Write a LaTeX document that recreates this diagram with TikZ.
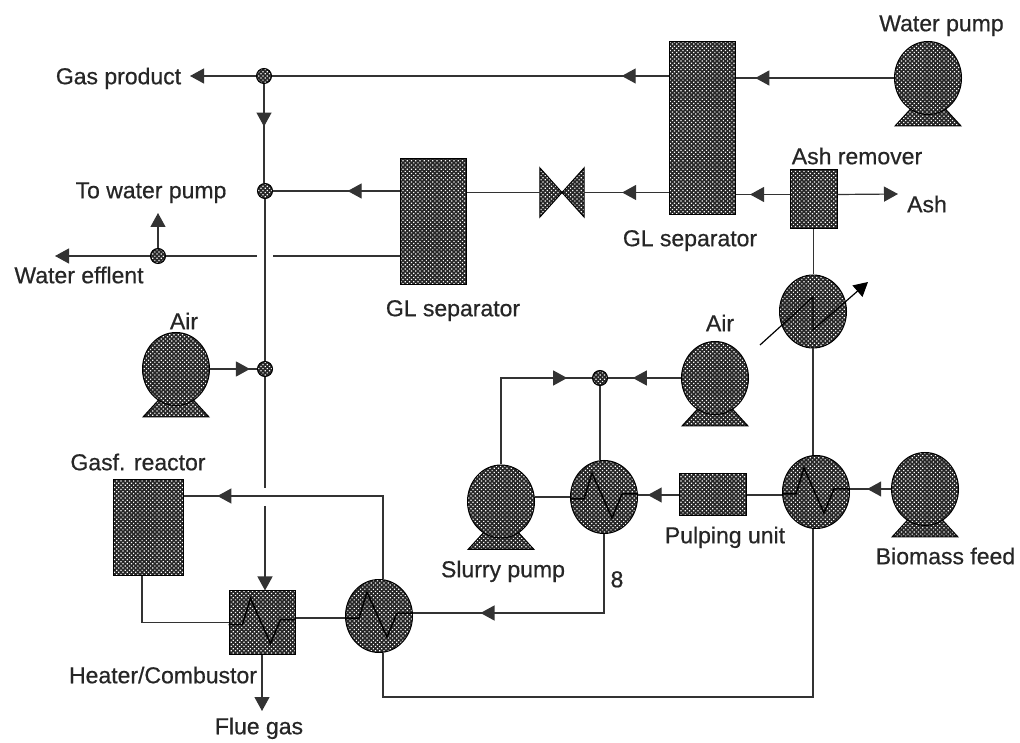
\documentclass[tikz,border=0pt]{standalone}
\usepackage{fontspec}
\setmainfont{Liberation Sans}[FakeBold=0.6]
\usepackage{tikz}
\usetikzlibrary{shapes.geometric, arrows.meta, patterns.meta, decorations.markings}
\tikzstyle{unit} = [rectangle, draw=black, line width=1pt, inner sep=0pt, preaction={fill=black!85}, pattern={Dots[distance=3pt, angle=45, radius=0.85pt]}, pattern color=white]
\tikzstyle{exchanger} = [unit, ellipse, minimum width=67pt, minimum height=73pt]
\tikzstyle{pump} = [unit, ellipse, minimum width=67pt, minimum height=73pt]
\tikzstyle{pumpfoot} = [unit, trapezium, inner sep=2pt, trapezium left angle=55, trapezium right angle=55, trapezium stretches=true, minimum width=66pt, minimum height=21pt]
\tikzstyle{junction} = [unit, circle, minimum size=15pt]
\tikzstyle{valvebox} = [rectangle, inner sep=0pt, minimum width=44pt, minimum height=49pt]
\tikzstyle{tag} = [font=\fontsize{23}{25}\selectfont, inner sep=0pt, text=black!85, text height=16.5pt, text depth=0pt]
\tikzstyle{pipe} = [line width=1.2pt, draw=black!80]
\tikzstyle{arrow} = [pipe, -{Triangle[length=14pt,width=15pt]}]
\tikzstyle{midarrow}[0.5] = [pipe, postaction={decorate}, decoration={markings, mark=at position #1 with {\arrow{Triangle[length=14pt,width=15pt]}}}]
\newcommand{\wiggle}[1]{\draw [pipe, line width=1.5pt, draw=black] (#1.west) ++(0,-2) -- ++(14,0) -- ++(8,26) -- ++(20,-45) -- ++(10,24) -- ([yshift=3pt]#1.east);}

\begin{document}
\begin{tikzpicture}[x=1pt, y=1pt, node distance=50pt]
\useasboundingbox (0,0) rectangle (1020,742);

% separators, upper right
\node (sep1) [unit, minimum width=66pt, minimum height=173pt] at (702,613.5) {};
\node (wfoot) [pumpfoot, right of=sep1, xshift=176pt, yshift=13pt] {};
\node (wpump) [pump, above of=wfoot, yshift=-12.5pt] {};
\node (ashrem) [unit, minimum width=47pt, minimum height=59pt, below of=sep1, xshift=111.5pt, yshift=-21pt] {};
\node (ashend) [coordinate, right of=ashrem, xshift=34.5pt, yshift=5.5pt] {};
\node (hxtop) [exchanger, below of=ashrem, xshift=-0.5pt, yshift=-62pt] {};
\node (hxbio) [exchanger, below of=hxtop, xshift=3pt, yshift=-130.5pt] {};
\node (pulp) [unit, minimum width=67pt, minimum height=42pt, left of=hxbio, xshift=-53.5pt, yshift=-3pt] {};
\node (hxslu) [exchanger, left of=pulp, xshift=-58.5pt, yshift=-2pt] {};
\node (sfoot) [pumpfoot, left of=hxslu, xshift=-53pt, yshift=-42pt] {};
\node (spump) [pump, above of=sfoot, yshift=-12.5pt] {};
\node (bfoot) [pumpfoot, right of=hxbio, xshift=59pt, yshift=-34.5pt] {};
\node (bpump) [pump, above of=bfoot, yshift=-12.5pt] {};
\node (afoot) [pumpfoot, above of=pulp, xshift=2.5pt, yshift=29.5pt] {};
\node (apump) [pump, above of=afoot, yshift=-12.5pt] {};
\node (j5) [junction, left of=apump, xshift=-65pt] {};

% valve and left side
\node (valve) [valvebox, left of=sep1, xshift=-90pt, yshift=-64pt] {};
\node (sep2) [unit, minimum width=66pt, minimum height=126pt, left of=valve, xshift=-79pt, yshift=-29.5pt] {};
\node (j2) [junction, left of=sep2, xshift=-118pt, yshift=31pt] {};
\node (j1) [junction, above of=j2, xshift=-1pt, yshift=65pt] {};
\node (gasend) [coordinate, left of=j1, xshift=-24pt] {};
\node (j3) [junction, left of=j2, xshift=-57pt, yshift=-65pt] {};
\node (effend) [coordinate, left of=j3, xshift=-53pt] {};
\node (toend) [coordinate, above of=j3, yshift=-7pt] {};
\node (gapl) [coordinate, right of=j3, xshift=49pt] {};
\node (gapr) [coordinate, right of=j3, xshift=65pt] {};
\node (j4) [junction, below of=j2, yshift=-128pt] {};
\node (lfoot) [pumpfoot, left of=j4, xshift=-39pt, yshift=-37.5pt] {};
\node (lpump) [pump, above of=lfoot, yshift=-12.5pt] {};
\node (gapt) [coordinate, below of=j4, yshift=-69pt] {};
\node (gapb) [coordinate, below of=j4, yshift=-87pt] {};

% lower left
\node (reactor) [unit, minimum width=70pt, minimum height=96pt, below of=lfoot, xshift=-28pt, yshift=-71.5pt] {};
\node (heater) [unit, minimum width=66pt, minimum height=63pt, right of=reactor, xshift=64pt, yshift=-94.5pt] {};
\node (hxlow) [exchanger, right of=heater, xshift=67pt, yshift=6.5pt] {};
\node (flueend) [coordinate, below of=heater, yshift=-38.5pt] {};
\node (retlow) [coordinate, below of=hxlow, xshift=4pt, yshift=-31pt] {};

% valve body and coils
\draw [unit] (valve.north west) -- (valve.south east) -- (valve.north east) -- (valve.south west) -- cycle;
\wiggle{hxslu}
\wiggle{hxbio}
\wiggle{hxlow}
\wiggle{heater}

% pipes
\draw [midarrow=0.875] (wpump.west) -- (wpump.west -| sep1.east);
\draw [midarrow=0.118] (j1 -| sep1.west) -- (j1);
\draw [arrow] (j1) -- (gasend);
\draw [midarrow=0.43] (j1) -- (j1 |- j2.north);
\draw [pipe] (j2) -- (j4);
\draw [midarrow=0.41] (j2 -| sep2.west) -- (j2);
\draw [midarrow=0.55] (valve -| sep1.west) -- (valve.east);
\draw [pipe] (valve.west) -- (valve -| sep2.east);
\draw [midarrow=0.73] ([yshift=5pt]ashrem.west) -- ([yshift=5pt]ashrem.west -| sep1.east);
\draw [arrow] ([yshift=5pt]ashrem.east) -- (ashend);
\draw [pipe] (ashrem) -- (ashrem |- hxtop.north);
\draw [pipe] (hxtop) -- (hxtop |- hxbio.north);
\draw [arrow, draw=black] ([shift={(-53,-33.5)}]hxtop.center) -- ++(53,48) -- ++(0,-33) -- ++(55,48);
\draw [arrow] (j3) -- (effend);
\draw [arrow] (j3) -- (toend);
\draw [pipe] (j3) -- (gapl);
\draw [pipe] (gapr) -- (gapr -| sep2.west);
\draw [midarrow=0.85] (lpump) -- (j4);
\draw [midarrow=0.66] (apump) -- (j5);
\draw [midarrow=0.86] (spump) |- (j5);
\draw [pipe] (j5) -- (j5 |- hxslu.north);
\draw [pipe] (hxslu.west) -- (hxslu.west -| spump.east);
\draw [midarrow=0.76] (pulp.west) -- (pulp.west -| hxslu.east);
\draw [pipe] (pulp.east) -- (pulp.east -| hxbio.west);
\draw [midarrow=0.58] (bpump.west) -- (bpump.west -| hxbio.east);
\draw [pipe] (hxtop |- hxbio.south) |- (retlow) -- (retlow |- hxlow.south);
\draw [midarrow=0.75] (hxslu.south) |- ([yshift=3pt]hxlow.east);
\draw [pipe] ([yshift=-2pt]hxlow.west) -- ([yshift=-2pt]hxlow.west -| heater.east);
\draw [midarrow=0.88] ([xshift=4pt]hxlow.north) |- ([yshift=32pt]reactor.east);
\draw [pipe] ([xshift=-6pt]reactor.south) |- (heater.west);
\draw [pipe] (j4) -- (gapt);
\draw [arrow] (gapb) -- (gapb |- heater.north);
\draw [arrow] (heater.south) -- (flueend);

% labels
\node (gastag) [tag, left of=j1, xshift=-95.5pt] {Gas product};
\node (wtag) [tag, above of=wpump, xshift=13.5pt, yshift=5pt] {Water pump};
\node (totag) [tag, above of=j3, xshift=-7pt, yshift=16pt] {To water pump};
\node (efftag) [tag, left of=j3, xshift=-29pt, yshift=-19pt] {Water efflent};
\node (remtag) [tag, above of=ashrem, xshift=43.5pt, yshift=-6.5pt] {Ash remover};
\node (ashtag) [tag, right of=ashrem, xshift=63.5pt, yshift=-4.5pt] {Ash};
\node (gltag) [tag, below of=sep1, xshift=-12pt, yshift=-59.5pt] {GL separator};
\node (gltagb) [tag, below of=sep2, xshift=20pt, yshift=-36pt] {GL separator};
\node (ltag) [tag, above of=lpump, xshift=8pt, yshift=-2pt] {Air};
\node (atag) [tag, above of=apump, xshift=5pt, yshift=5pt] {Air};
\node (gasftag) [tag, above of=reactor, xshift=-10pt, yshift=16pt] {Gasf. reactor};
\node (slutag) [tag, below of=sfoot, xshift=2pt, yshift=20pt] {Slurry pump};
\node (pultag) [tag, below of=pulp, xshift=12.5pt, yshift=10pt] {Pulping unit};
\node (biotag) [tag, below of=bfoot, xshift=20.5pt, yshift=20.5pt] {Biomass feed};
\node (numtag) [tag, below of=hxslu, xshift=13pt, yshift=-32pt] {8};
\node (heatag) [tag, below of=heater, xshift=-99pt, yshift=-2.5pt] {Heater/Combustor};
\node (fluetag) [tag, below of=heater, xshift=-3pt, yshift=-53.5pt] {Flue gas};
\end{tikzpicture}
\end{document}
